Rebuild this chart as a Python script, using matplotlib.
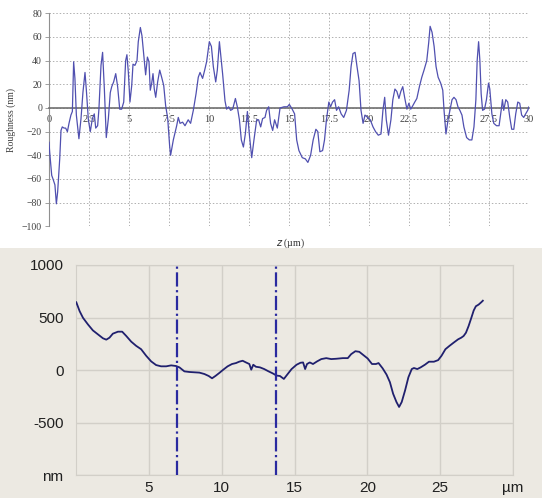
"""Two surface profiles: roughness trace (top) and a height line scan (bottom)."""
import matplotlib
matplotlib.use('Agg')
import matplotlib.pyplot as plt
from matplotlib.patches import Rectangle

# ---------------- top: roughness profile ----------------
rough_z = [0, 0.04, 0.17, 0.25, 0.37, 0.46, 0.54, 0.67, 0.75, 0.83, 0.94, 1.04, 1.15, 1.25,
           1.37, 1.46, 1.54, 1.62, 1.71, 1.87, 2.0, 2.12, 2.25, 2.33, 2.46, 2.58, 2.71, 2.83,
           2.92, 3.04, 3.12, 3.25, 3.35, 3.46, 3.58, 3.71, 3.83, 3.92, 4.04, 4.17, 4.29, 4.42,
           4.54, 4.67, 4.79, 4.87, 4.96, 5.06, 5.17, 5.25, 5.37, 5.5, 5.58, 5.71, 5.81, 5.92,
           6.04, 6.15, 6.25, 6.33, 6.42, 6.5, 6.58, 6.67, 6.79, 6.92, 7.04, 7.17, 7.29, 7.42,
           7.54, 7.6, 7.77, 7.98, 8.08, 8.19, 8.35, 8.5, 8.7, 8.85, 9.02, 9.19, 9.33, 9.44,
           9.6, 9.73, 9.85, 10.02, 10.15, 10.27, 10.42, 10.52, 10.65, 10.73, 10.85, 11.0,
           11.1, 11.23, 11.35, 11.48, 11.65, 11.77, 11.9, 12.02, 12.15, 12.27, 12.4, 12.52,
           12.67, 12.81, 12.98, 13.1, 13.23, 13.35, 13.5, 13.6, 13.73, 13.85, 13.98, 14.1,
           14.27, 14.44, 14.69, 14.9, 15.02, 15.2, 15.35, 15.48, 15.62, 15.83, 16.02, 16.18,
           16.35, 16.51, 16.68, 16.8, 16.93, 17.1, 17.22, 17.34, 17.49, 17.6, 17.72, 17.85,
           17.97, 18.1, 18.26, 18.42, 18.59, 18.76, 18.88, 19.0, 19.13, 19.25, 19.38, 19.5,
           19.63, 19.75, 19.92, 20.08, 20.25, 20.41, 20.58, 20.75, 20.87, 20.98, 21.08, 21.22,
           21.37, 21.49, 21.62, 21.74, 21.87, 21.99, 22.11, 22.24, 22.37, 22.49, 22.61, 22.74,
           22.86, 22.99, 23.15, 23.3, 23.44, 23.61, 23.73, 23.82, 23.94, 24.07, 24.19, 24.32,
           24.48, 24.61, 24.69, 24.81, 24.94, 25.06, 25.19, 25.31, 25.44, 25.56, 25.68, 25.81,
           25.93, 26.1, 26.27, 26.43, 26.56, 26.68, 26.76, 26.85, 26.93, 27.01, 27.1, 27.22,
           27.34, 27.47, 27.55, 27.68, 27.8, 27.97, 28.13, 28.26, 28.34, 28.42, 28.55, 28.67,
           28.8, 28.92, 29.05, 29.17, 29.3, 29.42, 29.54, 29.67, 29.79, 29.92, 30.0]
rough_nm = [-29, -37, -57, -60, -65, -81, -71, -43, -19, -16, -17, -17, -20, -13,
            -6, -3, 39, 25, -6, -26, -9, 13, 30, 16, -10, -20, -9, -5,
            -17, -15, -1, 36, 47, 16, -25, -9, 13, 18, 22, 29, 18, -1,
            -1, 5, 40, 45, 30, 5, 19, 37, 36, 40, 56, 68, 61, 45,
            28, 43, 39, 15, 21, 29, 16, 9, 22, 32, 26, 19, 2, -9,
            -32, -40, -27, -15, -8, -13, -12, -15, -10, -13, -2, 12, 26, 30,
            25, 32, 39, 56, 52, 35, 22, 32, 56, 45, 29, 6,
            -1, 1, -2, -1, 8, 1, -10, -27, -33, -22, -3, -22,
            -42, -27, -10, -10, -16, -9, -8, -2, 1, -13, -19, -10,
            -17, 0, 1, 1, 3, -1, -5, -27, -36, -42, -43, -46,
            -40, -27, -18, -20, -37, -36, -27, -10, 5, 1, 5, 7,
            -2, 1, -5, -8, -2, 15, 35, 46, 47, 35, 23, -2,
            -13, -6, -8, -10, -16, -20, -23, -22, -2, 9, -10, -23,
            -10, 7, 16, 14, 8, 14, 18, 8, -1, 4, -1, 2,
            5, 8, 18, 26, 32, 40, 55, 69, 64, 52, 35, 26,
            21, 15, -2, -22, -10, -2, 7, 9, 7, 1, -2, -6,
            -16, -25, -27, -27, -16, 7, 40, 56, 40, 12, -2, -1,
            7, 21, 16, -5, -13, -15, -15, -2, 7, -2, 7, 5,
            -8, -18, -18, -5, 5, 4, -6, -8, -5, -2, 1]
top_xticks = [0, 2.5, 5, 7.5, 10, 12.5, 15, 17.5, 20, 22.5, 25, 27.5, 30]
top_xticklabels = ['0', '2.5', '5', '7.5', '10', '12.5', '15', '17.5', '20', '22.5', '25', '27.5', '30']
top_yticks = [80, 60, 40, 20, 0, -20, -40, -60, -80, -100]

# ---------------- bottom: line scan ----------------
scan_um = [0.02, 0.25, 0.48, 0.82, 1.16, 1.5, 1.85, 2.08, 2.3, 2.53, 2.88, 3.17, 3.45, 3.79,
           4.13, 4.47, 4.82, 5.16, 5.5, 5.84, 6.19, 6.53, 6.87, 7.1, 7.44, 7.79, 8.13, 8.47,
           8.81, 9.11, 9.34, 9.57, 9.84, 10.11, 10.41, 10.71, 10.98, 11.2, 11.44, 11.67,
           11.9, 12.03, 12.17, 12.35, 12.63, 12.92, 13.22, 13.49, 13.77, 14.0, 14.27, 14.5,
           14.8, 15.14, 15.41, 15.59, 15.73, 15.86, 16.05, 16.27, 16.55, 16.84, 17.18, 17.52,
           17.86, 18.32, 18.66, 18.89, 19.18, 19.45, 19.73, 20.02, 20.32, 20.59, 20.77, 21.05,
           21.32, 21.55, 21.77, 22.0, 22.18, 22.36, 22.59, 22.82, 23.05, 23.2, 23.43, 23.66,
           23.95, 24.23, 24.57, 24.86, 25.09, 25.36, 25.64, 25.93, 26.23, 26.45, 26.61, 26.77,
           26.95, 27.14, 27.3, 27.45, 27.64, 27.82, 27.93]
scan_nm = [645, 560, 497, 434, 377, 340, 302, 289, 308, 346, 365, 365, 324, 270,
           230, 198, 135, 82, 47, 35, 35, 44, 38, 25, -13, -19, -22, -25,
           -38, -57, -79, -57, -28, 3, 35, 57, 66, 79, 88, 72,
           57, 3, 50, 31, 25, 9, -13, -31, -53, -57, -85, -44,
           9, 50, 69, 72, 9, 57, 72, 57, 82, 104, 113, 104,
           107, 113, 113, 151, 179, 173, 142, 110, 57, 57, 66, 16,
           -44, -116, -226, -305, -352, -305, -195, -69, 9, 19, 9, 25,
           50, 79, 79, 94, 135, 198, 230, 261, 292, 308, 324, 355,
           418, 497, 566, 607, 623, 645, 660]
cursor_um = [6.9, 13.7]
bot_xticks = [5, 10, 15, 20, 25, 30]
bot_xticklabels = ['5', '10', '15', '20', '25', 'µm']
bot_yticks = [1000, 500, 0, -500, -1000]
bot_yticklabels = ['1000', '500', '0', '-500', 'nm']

W, H = 542, 498
fig = plt.figure(figsize=(W / 100, H / 100), dpi=100, facecolor='white')

# beige backdrop for the lower panel
fig.patches.append(Rectangle((0, 0), 1, 0.502, transform=fig.transFigure,
                             facecolor='#ece9e2', edgecolor='none', zorder=-10))

# ================= top panel =================
ax1 = fig.add_axes([49 / W, 1 - 226.3 / H, 480 / W, 213 / H])
ax1.plot(rough_z, rough_nm, color='#5050b0', lw=0.9, zorder=3)
ax1.set_xlim(0, 30)
ax1.set_ylim(-100, 80)
ax1.set_xticks(top_xticks)
ax1.set_xticklabels(top_xticklabels)
ax1.set_yticks(top_yticks)
ax1.grid(True, ls=(0, (1.5, 2)), color='#b0b0b0', lw=0.7)
ax1.spines['bottom'].set_position(('data', 0))
ax1.spines['bottom'].set_color('#707070')
ax1.spines['bottom'].set_linewidth(1.2)
ax1.spines['left'].set_color('#909090')
ax1.spines['top'].set_visible(False)
ax1.spines['right'].set_visible(False)
ax1.tick_params(axis='x', length=0, pad=5, labelsize=7.5, labelcolor='#404040')
ax1.tick_params(axis='y', length=3, width=0.6, color='#909090', pad=2, labelsize=7,
                labelcolor='#404040')
for lab in ax1.get_xticklabels() + ax1.get_yticklabels():
    lab.set_fontfamily('Liberation Serif')
ax1.set_ylabel('Roughness (nm)', fontsize=7, family='Liberation Serif', color='#404040',
               labelpad=4)
fig.text(290 / W, 1 - 243 / H, r'$z$ (µm)', fontsize=7, family='Liberation Serif',
         color='#303030', ha='center', va='center')

# ================= bottom panel =================
ax2 = fig.add_axes([76 / W, 1 - 475 / H, 437 / W, 210 / H])
ax2.set_facecolor('#ece9e2')
ax2.plot(scan_um, scan_nm, color='#20206e', lw=1.3, zorder=3)
for xc in cursor_um:
    ax2.axvline(xc, color='#2a2aa0', lw=1.6, ls='-.', zorder=4)
ax2.set_xlim(0, 30)
ax2.set_ylim(-1000, 1000)
ax2.set_xticks(bot_xticks)
ax2.set_xticklabels(bot_xticklabels)
ax2.set_yticks(bot_yticks)
ax2.set_yticklabels(bot_yticklabels)
ax2.grid(True, color='#d2cfc8', lw=1.0)
for sp in ax2.spines.values():
    sp.set_color('#d2cfc8')
ax2.tick_params(length=0, labelsize=11, labelcolor='#202020')
ax2.tick_params(axis='y', pad=9)
ax2.tick_params(axis='x', pad=4)
for lab in ax2.get_xticklabels() + ax2.get_yticklabels():
    lab.set_fontfamily('Liberation Sans')

fig.savefig('out.png', dpi=100)
